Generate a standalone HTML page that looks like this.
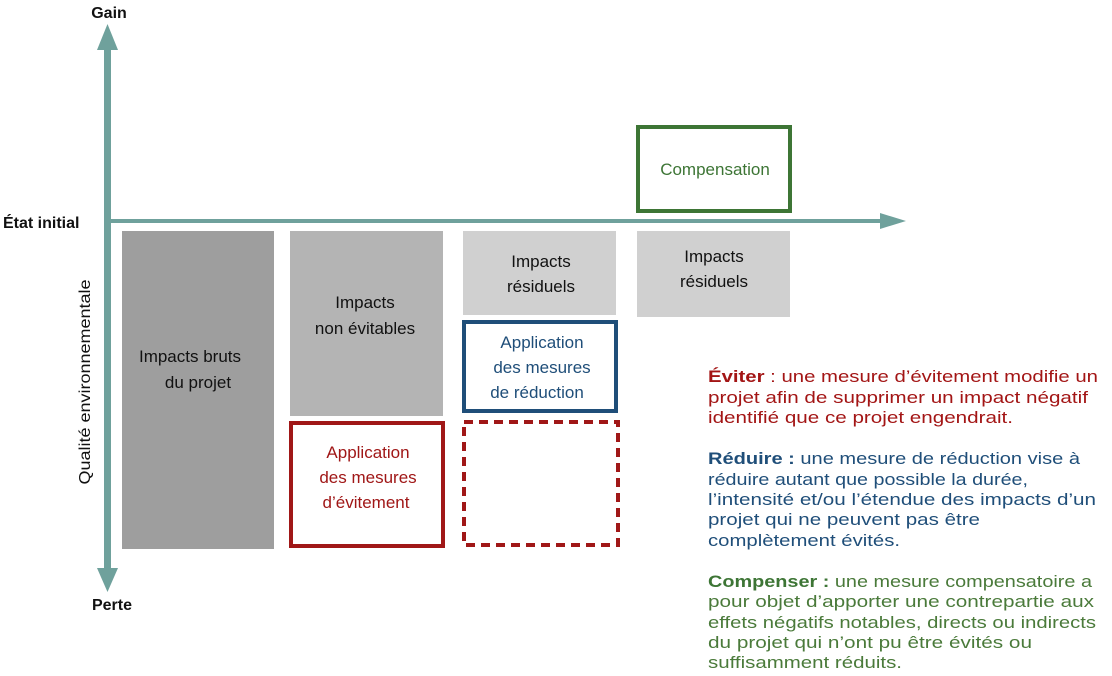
<!DOCTYPE html>
<html><head><meta charset="utf-8"><style>
html,body{margin:0;padding:0;background:#fff;}
svg{display:block;font-family:"Liberation Sans",sans-serif;}
</style></head><body>
<svg width="1112" height="676" viewBox="0 0 1112 676" xmlns="http://www.w3.org/2000/svg">
<rect x="104" y="48" width="7" height="524" fill="#6fa19c"/>
<polygon points="97,50 118,50 107.5,24" fill="#6fa19c"/>
<polygon points="97,568 118,568 107.5,592" fill="#6fa19c"/>
<rect x="107" y="219" width="776" height="4" fill="#6fa19c"/>
<polygon points="880,213 880,229 906,221" fill="#6fa19c"/>
<text x="109" y="18" font-size="16" font-weight="bold" text-anchor="middle" fill="#111">Gain</text>
<text x="112" y="610" font-size="16" font-weight="bold" text-anchor="middle" fill="#111">Perte</text>
<text x="3" y="228" font-size="16" font-weight="bold" fill="#111">État initial</text>
<text transform="translate(90,382) rotate(-90)" font-size="16" text-anchor="middle" fill="#111" textLength="205" lengthAdjust="spacingAndGlyphs">Qualité environnementale</text>
<rect x="122" y="231" width="152" height="318" fill="#9e9e9e"/>
<text font-size="17" text-anchor="middle" fill="#111"><tspan x="190" y="362">Impacts bruts</tspan><tspan x="198" y="388">du projet</tspan></text>
<rect x="290" y="231" width="153" height="185" fill="#b4b4b4"/>
<text font-size="17" text-anchor="middle" fill="#111"><tspan x="365" y="308">Impacts</tspan><tspan x="365" y="334">non évitables</tspan></text>
<rect x="291" y="423" width="152" height="123" fill="#fff" stroke="#a01717" stroke-width="4"/>
<text font-size="17" text-anchor="middle" fill="#a01717"><tspan x="368" y="458">Application</tspan><tspan x="368" y="483">des mesures</tspan><tspan x="366" y="508">d’évitement</tspan></text>
<rect x="463" y="231" width="153" height="84" fill="#d0d0d0"/>
<text font-size="17" text-anchor="middle" fill="#111"><tspan x="541" y="267">Impacts</tspan><tspan x="541" y="292">résiduels</tspan></text>
<rect x="464" y="322" width="152" height="89" fill="#fff" stroke="#1f4e79" stroke-width="4"/>
<text font-size="17" text-anchor="middle" fill="#1f4e79"><tspan x="542" y="348">Application</tspan><tspan x="542" y="373">des mesures</tspan><tspan x="537" y="398">de réduction</tspan></text>
<rect x="464" y="422" width="154" height="123" fill="none" stroke="#a01717" stroke-width="4" stroke-dasharray="9,6"/>
<rect x="637" y="231" width="153" height="86" fill="#d0d0d0"/>
<text font-size="17" text-anchor="middle" fill="#111"><tspan x="714" y="262">Impacts</tspan><tspan x="714" y="287">résiduels</tspan></text>
<rect x="638" y="127" width="152" height="84" fill="#fff" stroke="#3d7535" stroke-width="4"/>
<text x="715" y="175" font-size="17" text-anchor="middle" fill="#3d7535">Compensation</text>
<g font-size="16.5">
<text fill="#a31515"><tspan x="708" y="382" textLength="390" lengthAdjust="spacingAndGlyphs"><tspan font-weight="bold">Éviter</tspan> : une mesure d’évitement modifie un</tspan><tspan x="708" y="403" textLength="380" lengthAdjust="spacingAndGlyphs">projet afin de supprimer un impact négatif</tspan><tspan x="708" y="423" textLength="305" lengthAdjust="spacingAndGlyphs">identifié que ce projet engendrait.</tspan></text>
<text fill="#1f4e79"><tspan x="708" y="464" textLength="372" lengthAdjust="spacingAndGlyphs"><tspan font-weight="bold">Réduire :</tspan> une mesure de réduction vise à</tspan><tspan x="708" y="485" textLength="320" lengthAdjust="spacingAndGlyphs">réduire autant que possible la durée,</tspan><tspan x="708" y="505" textLength="388" lengthAdjust="spacingAndGlyphs">l’intensité et/ou l’étendue des impacts d’un</tspan><tspan x="708" y="525" textLength="272" lengthAdjust="spacingAndGlyphs">projet qui ne peuvent pas être</tspan><tspan x="708" y="546" textLength="192" lengthAdjust="spacingAndGlyphs">complètement évités.</tspan></text>
<text fill="#4a7a3a"><tspan x="708" y="587" textLength="384" lengthAdjust="spacingAndGlyphs"><tspan font-weight="bold" fill="#3d7535">Compenser :</tspan> une mesure compensatoire a</tspan><tspan x="708" y="607" textLength="386" lengthAdjust="spacingAndGlyphs">pour objet d’apporter une contrepartie aux</tspan><tspan x="708" y="628" textLength="388" lengthAdjust="spacingAndGlyphs">effets négatifs notables, directs ou indirects</tspan><tspan x="708" y="648" textLength="324" lengthAdjust="spacingAndGlyphs">du projet qui n’ont pu être évités ou</tspan><tspan x="708" y="668" textLength="194" lengthAdjust="spacingAndGlyphs">suffisamment réduits.</tspan></text>
</g>
</svg>
</body></html>
